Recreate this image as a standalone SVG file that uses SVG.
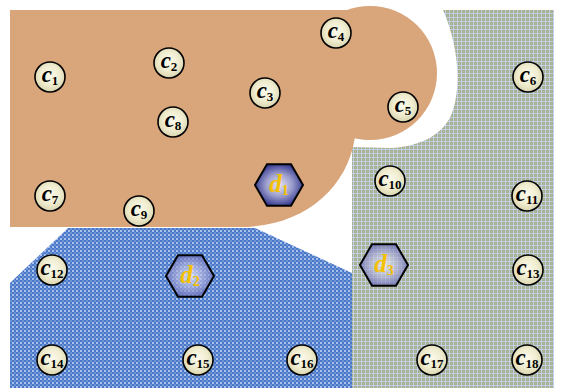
<svg xmlns="http://www.w3.org/2000/svg" width="564" height="388" viewBox="0 0 564 388">
<defs>
<pattern id="pBlue" width="4" height="4" patternUnits="userSpaceOnUse">
<rect width="4" height="4" fill="#A9C1EC"/>
<rect x="0" y="0" width="2" height="2" fill="#4A78C8"/>
<rect x="2" y="2" width="2" height="2" fill="#4A78C8"/>
<rect x="2" y="0" width="2" height="2" fill="#6E93D4"/>
</pattern>
<pattern id="pGreen" width="4" height="4" patternUnits="userSpaceOnUse">
<rect width="4" height="4" fill="#A8AE8E"/>
<rect x="1" y="0" width="1" height="4" fill="#C0D1EA"/>
<rect x="0" y="1" width="4" height="1" fill="#C0D1EA"/>
<rect x="3" y="3" width="1" height="1" fill="#B4BA9C"/>
</pattern>
<radialGradient id="gC" cx="50%" cy="45%" r="55%">
<stop offset="0" stop-color="#FCFBEC"/>
<stop offset="0.6" stop-color="#EFECCF"/>
<stop offset="1" stop-color="#D9D4AE"/>
</radialGradient>
<radialGradient id="gD1" cx="50%" cy="50%" r="55%">
<stop offset="0" stop-color="#E6E6F2"/>
<stop offset="0.5" stop-color="#9A9CCB"/>
<stop offset="1" stop-color="#2A2E8A"/>
</radialGradient>
<radialGradient id="gD2" cx="50%" cy="50%" r="55%">
<stop offset="0" stop-color="#FFFFFF" stop-opacity="0.7"/>
<stop offset="0.5" stop-color="#B8B8E0" stop-opacity="0.65"/>
<stop offset="1" stop-color="#5A5EB0" stop-opacity="0.75"/>
</radialGradient>
<polygon id="hex" points="-24,0 -12,-20.8 12,-20.8 24,0 12,20.8 -12,20.8"/>
</defs>
<style>
.cn circle{fill:url(#gC);stroke:#000;stroke-width:1.6}
.cn text{font-family:"Liberation Serif","DejaVu Serif",serif;text-anchor:middle;fill:#000}
.cv{font-size:23px;font-weight:bold;font-style:italic}
.cs{font-size:13px;font-weight:bold}
.dn use{stroke:#000;stroke-width:2}
.dn text{font-family:"Liberation Serif","DejaVu Serif",serif;text-anchor:middle;fill:#F5C000}
.dv{font-size:25px;font-weight:bold;font-style:italic}
.ds{font-size:14px;font-weight:bold}
</style>
<rect width="564" height="388" fill="#FFFFFF"/>
<g id="regions">
<path id="green" d="M443,10 L554,10 L554,388 L352,388 L352,147 L390,148 C420,147 446,134 453,110 C462,82 457,42 443,10 Z" fill="url(#pGreen)"/>
<path id="blue" d="M68,228 L255,228 L352,273 L352,388 L10,388 L10,283 Z" fill="url(#pBlue)"/>
<g id="orange" fill="#D9A57A">
<path d="M10,10 L355,10 L355,137 C347,190 302,227 240,227 L10,227 Z"/>
<circle cx="370" cy="73" r="67"/>
</g>
</g>
<g id="connectors"></g>
<g id="nodes">
<g id="c1" class="cn"><circle cx="50" cy="77" r="15"/><text x="50" y="82"><tspan class="cv">c</tspan><tspan class="cs" dy="3">1</tspan></text></g>
<g id="c2" class="cn"><circle cx="169" cy="63" r="15"/><text x="169" y="68"><tspan class="cv">c</tspan><tspan class="cs" dy="3">2</tspan></text></g>
<g id="c3" class="cn"><circle cx="265" cy="93" r="15"/><text x="265" y="98"><tspan class="cv">c</tspan><tspan class="cs" dy="3">3</tspan></text></g>
<g id="c4" class="cn"><circle cx="336" cy="33" r="15"/><text x="336" y="38"><tspan class="cv">c</tspan><tspan class="cs" dy="3">4</tspan></text></g>
<g id="c5" class="cn"><circle cx="403" cy="107" r="15"/><text x="403" y="112"><tspan class="cv">c</tspan><tspan class="cs" dy="3">5</tspan></text></g>
<g id="c6" class="cn"><circle cx="528" cy="77" r="15"/><text x="528" y="82"><tspan class="cv">c</tspan><tspan class="cs" dy="3">6</tspan></text></g>
<g id="c7" class="cn"><circle cx="50" cy="196" r="15"/><text x="50" y="201"><tspan class="cv">c</tspan><tspan class="cs" dy="3">7</tspan></text></g>
<g id="c8" class="cn"><circle cx="173" cy="122" r="15"/><text x="173" y="127"><tspan class="cv">c</tspan><tspan class="cs" dy="3">8</tspan></text></g>
<g id="c9" class="cn"><circle cx="139" cy="211" r="15"/><text x="139" y="216"><tspan class="cv">c</tspan><tspan class="cs" dy="3">9</tspan></text></g>
<g id="c10" class="cn"><circle cx="390" cy="181" r="15"/><text x="390" y="186"><tspan class="cv">c</tspan><tspan class="cs" dy="3">10</tspan></text></g>
<g id="c11" class="cn"><circle cx="527" cy="196" r="15"/><text x="527" y="201"><tspan class="cv">c</tspan><tspan class="cs" dy="3">11</tspan></text></g>
<g id="c12" class="cn"><circle cx="52" cy="270" r="15"/><text x="52" y="275"><tspan class="cv">c</tspan><tspan class="cs" dy="3">12</tspan></text></g>
<g id="c13" class="cn"><circle cx="528" cy="270" r="15"/><text x="528" y="275"><tspan class="cv">c</tspan><tspan class="cs" dy="3">13</tspan></text></g>
<g id="c14" class="cn"><circle cx="52" cy="360" r="15"/><text x="52" y="365"><tspan class="cv">c</tspan><tspan class="cs" dy="3">14</tspan></text></g>
<g id="c15" class="cn"><circle cx="198" cy="360" r="15"/><text x="198" y="365"><tspan class="cv">c</tspan><tspan class="cs" dy="3">15</tspan></text></g>
<g id="c16" class="cn"><circle cx="302" cy="360" r="15"/><text x="302" y="365"><tspan class="cv">c</tspan><tspan class="cs" dy="3">16</tspan></text></g>
<g id="c17" class="cn"><circle cx="432" cy="360" r="15"/><text x="432" y="365"><tspan class="cv">c</tspan><tspan class="cs" dy="3">17</tspan></text></g>
<g id="c18" class="cn"><circle cx="527" cy="360" r="15"/><text x="527" y="365"><tspan class="cv">c</tspan><tspan class="cs" dy="3">18</tspan></text></g>
<g id="d1" class="dn"><use href="#hex" x="279" y="185" fill="url(#gD1)"/><text x="279" y="192"><tspan class="dv">d</tspan><tspan class="ds" dy="3">1</tspan></text></g>
<g id="d2" class="dn"><use href="#hex" x="190" y="276" fill="url(#gD2)"/><text x="190" y="283"><tspan class="dv">d</tspan><tspan class="ds" dy="3">2</tspan></text></g>
<g id="d3" class="dn"><use href="#hex" x="384" y="265" fill="url(#gD2)"/><text x="384" y="272"><tspan class="dv">d</tspan><tspan class="ds" dy="3">3</tspan></text></g>
</g>
</svg>
